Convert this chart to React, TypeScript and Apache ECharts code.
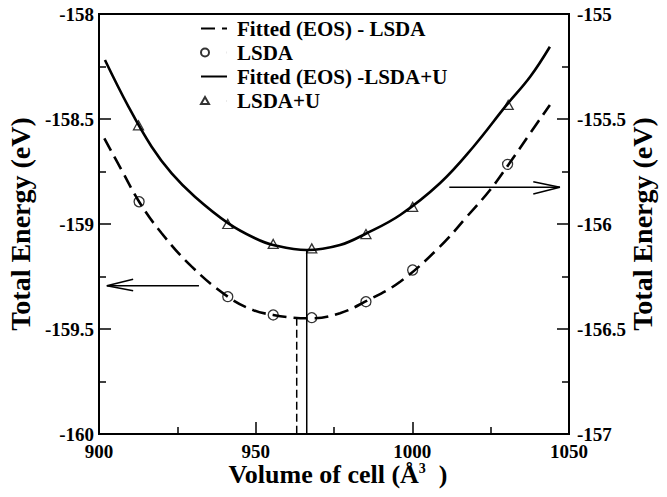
import React, { useEffect, useRef } from "react";
import * as echarts from "echarts";

// Fitted (EOS) curve, LSDA (left axis)
const lsdaFitVol = [901.7, 907.2, 913.1, 920.0, 929.6, 941.1, 949.2, 955.6, 962.0, 967.9, 976.9, 984.9, 996.1, 1008.8, 1017.4, 1024.8, 1030.6, 1037.6, 1043.9];
const lsdaFitE = [-158.592, -158.743, -158.901, -159.044, -159.203, -159.346, -159.41, -159.433, -159.446, -159.449, -159.425, -159.37, -159.275, -159.108, -158.965, -158.838, -158.719, -158.568, -158.433];

// LSDA calculated points (left axis)
const lsdaVol = [912.8, 941.1, 955.6, 967.9, 985.2, 1000.1, 1030.4];
const lsdaE = [-158.894, -159.346, -159.433, -159.446, -159.37, -159.219, -158.716];

// Fitted (EOS) curve, LSDA+U (right axis)
const ldauFitVol = [901.9, 909.4, 916.8, 923.2, 930.6, 941.3, 949.8, 955.6, 966.3, 976.9, 985.4, 996.1, 1008.8, 1019.5, 1030.1, 1037.6, 1043.9];
const ldauFitE = [-155.219, -155.441, -155.632, -155.759, -155.87, -155.997, -156.068, -156.1, -156.124, -156.1, -156.044, -155.957, -155.806, -155.632, -155.433, -155.299, -155.156];

// LSDA+U calculated points (right axis)
const ldauVol = [912.6, 941.1, 955.6, 967.9, 985.2, 1000.1, 1030.6];
const ldauE = [-155.53, -156.0, -156.095, -156.116, -156.048, -155.918, -155.433];

// Equilibrium volumes (vertical drop lines)
const lsdaV0 = 963.1;
const lsdaE0 = -159.447;
const ldauV0 = 966.3;
const ldauE0 = -156.124;

// Arrows pointing to the axes (data coordinates)
const leftArrowShaft = [[931.9, -159.294], [902.5, -159.294]];
const leftArrowHead = [[910.9, -159.263], [902.5, -159.294], [910.9, -159.318]];
const rightArrowShaft = [[1011.8, -155.825], [1047.1, -155.825]];
const rightArrowHead = [[1038.6, -155.799], [1047.1, -155.825], [1038.6, -155.857]];

const xTicks = { min: 900, max: 1050, interval: 50 };
const leftTicks = { min: -160, max: -158, interval: 0.5 };
const rightTicks = { min: -157, max: -155, interval: 0.5 };

const legendNames = ["Fitted (EOS) - LSDA", "LSDA", "Fitted (EOS) -LSDA+U", "LSDA+U"];

const zip = (a: number[], b: number[]) => a.map((v, i) => [v, b[i]]);

const FONT = "Liberation Serif";

// legend icons placed at the left of the icon box (tiny anchor segment at the right)
const circleIcon = "path://M0,4A4,4,0,1,1,8,4A4,4,0,1,1,0,4Z M25.9,4L26,4";
const triangleIcon = "path://M4,0L8,7L0,7Z M25.9,4L26,4";

export default function App() {
  const ref = useRef<HTMLDivElement>(null);
  useEffect(() => {
    if (!ref.current) return;
    const chart = echarts.init(ref.current, undefined, { renderer: "svg" });
    const black = "#000";
    const axisCommon = {
      axisLine: { show: true, onZero: false, lineStyle: { color: black, width: 2 } },
      axisTick: { show: true, inside: true, length: 12, lineStyle: { color: black, width: 1.5 } },
      minorTick: { show: true, splitNumber: 2, length: 7, lineStyle: { color: black, width: 1.5 } },
      splitLine: { show: false },
      minorSplitLine: { show: false },
      nameMoveOverlap: false,
    };
    const fmt = (v: number) => String(v);
    const labelStyle = { color: black, fontFamily: FONT, fontWeight: "bold" as const, fontSize: 19, lineHeight: 14, formatter: fmt };
    const nameStyle = { color: black, fontFamily: FONT, fontWeight: "bold" as const, fontSize: 28 };
    const thin = { color: black, width: 1.5 };
    chart.setOption({
      animation: false,
      backgroundColor: "#fff",
      textStyle: { fontFamily: FONT, fontWeight: "bold", color: black },
      grid: {
        left: 99,
        right: 98,
        top: 14,
        bottom: 63,
        show: true,
        borderColor: black,
        borderWidth: 2,
        backgroundColor: "transparent",
        outerBoundsMode: "none",
      },
      legend: {
        orient: "vertical",
        left: 195,
        top: 13,
        itemWidth: 26,
        itemHeight: 10,
        itemGap: 3,
        symbolKeepAspect: true,
        textStyle: { color: black, fontFamily: FONT, fontWeight: "bold", fontSize: 21, padding: [0, 0, 0, 5] },
        data: [
          { name: legendNames[0], itemStyle: { opacity: 0 } },
          { name: legendNames[1], icon: circleIcon },
          { name: legendNames[2], itemStyle: { opacity: 0 } },
          { name: legendNames[3], icon: triangleIcon },
        ],
        selectedMode: false,
      },
      xAxis: {
        type: "value",
        ...xTicks,
        ...axisCommon,
        axisLabel: { ...labelStyle, margin: 10 },
        name: "Volume of cell (Å{s|3}{n|  )}",
        nameLocation: "middle",
        nameGap: 27,
        nameTextStyle: {
          ...nameStyle,
          fontSize: 26,
          padding: [0, 0, 0, 8],
          rich: {
            s: { fontFamily: FONT, fontWeight: "bold", fontSize: 14, color: black, verticalAlign: "top" },
            n: { fontFamily: FONT, fontWeight: "bold", fontSize: 26, color: black },
          },
        },
      },
      yAxis: [
        {
          type: "value",
          position: "left",
          ...leftTicks,
          ...axisCommon,
          axisLabel: { ...labelStyle, margin: 5 },
          name: "Total Energy (eV)",
          nameLocation: "middle",
          nameGap: 65,
          nameTextStyle: nameStyle,
        },
        {
          type: "value",
          position: "right",
          ...rightTicks,
          ...axisCommon,
          axisLabel: { ...labelStyle, margin: 8 },
          name: "Total Energy (eV)",
          nameLocation: "middle",
          nameGap: 59,
          nameRotate: 90,
          nameTextStyle: nameStyle,
        },
      ],
      series: [
        {
          name: legendNames[0],
          type: "line",
          yAxisIndex: 0,
          data: zip(lsdaFitVol, lsdaFitE),
          smooth: 0.4,
          symbol: "none",
          lineStyle: { color: black, width: 2.6, type: [14, 7] },
          itemStyle: { color: black },
          z: 3,
        },
        {
          name: legendNames[1],
          type: "scatter",
          yAxisIndex: 0,
          data: zip(lsdaVol, lsdaE),
          symbol: "circle",
          symbolSize: 10,
          itemStyle: { color: "rgba(0,0,0,0)", borderColor: black, borderWidth: 1.3 },
          z: 4,
        },
        {
          name: legendNames[2],
          type: "line",
          yAxisIndex: 1,
          data: zip(ldauFitVol, ldauFitE),
          smooth: 0.4,
          symbol: "none",
          lineStyle: { color: black, width: 2.6 },
          itemStyle: { color: black },
          z: 3,
        },
        {
          name: legendNames[3],
          type: "scatter",
          yAxisIndex: 1,
          data: zip(ldauVol, ldauE),
          symbol: "triangle",
          symbolSize: [10, 9],
          itemStyle: { color: "rgba(0,0,0,0)", borderColor: black, borderWidth: 1.3 },
          z: 4,
        },
        {
          type: "line",
          yAxisIndex: 0,
          data: [[lsdaV0, lsdaE0], [lsdaV0, leftTicks.min]],
          symbol: "none",
          silent: true,
          lineStyle: { ...thin, type: [8, 4] },
        },
        {
          type: "line",
          yAxisIndex: 1,
          data: [[ldauV0, ldauE0], [ldauV0, rightTicks.min]],
          symbol: "none",
          silent: true,
          lineStyle: thin,
        },
        { type: "line", yAxisIndex: 0, data: leftArrowShaft, symbol: "none", silent: true, lineStyle: thin },
        { type: "line", yAxisIndex: 0, data: leftArrowHead, symbol: "none", silent: true, lineStyle: thin },
        { type: "line", yAxisIndex: 1, data: rightArrowShaft, symbol: "none", silent: true, lineStyle: thin },
        { type: "line", yAxisIndex: 1, data: rightArrowHead, symbol: "none", silent: true, lineStyle: thin },
      ],
    });
    return () => chart.dispose();
  }, []);
  return (
    <div
      ref={ref}
      style={{ position: "fixed", left: 0, top: 0, width: 667, height: 497, background: "#fff" }}
    />
  );
}
